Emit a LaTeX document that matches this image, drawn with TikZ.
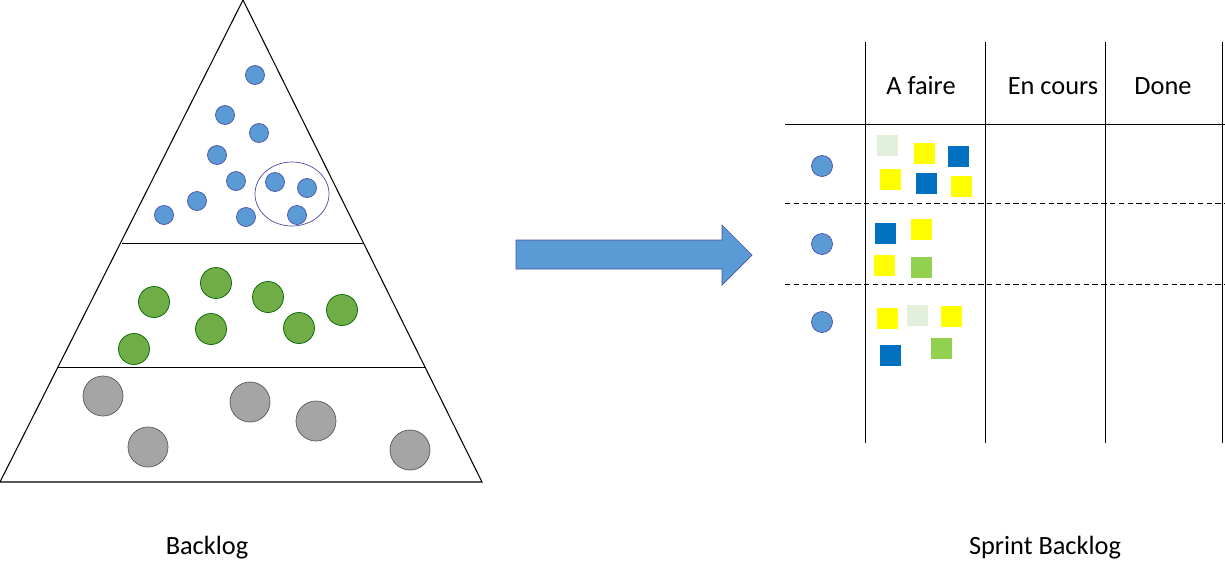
\documentclass[tikz,border=0pt]{standalone}
\usepackage{fontspec}
\setmainfont{Carlito}
\begin{document}
\begin{tikzpicture}[x=0.02cm,y=-0.02cm,
 bc/.style={circle,draw=blue!50!black!70,fill=bluedot,minimum size=19*0.02cm,inner sep=0},
 gc/.style={circle,draw=green!40!black,fill=greendot,minimum size=31*0.02cm,inner sep=0},
 gy/.style={circle,draw=gray!70!black,fill=graydot,minimum size=40*0.02cm,inner sep=0},
 sq/.style={minimum size=21*0.02cm,inner sep=0,draw=none},
 lbl/.style={font=\fontsize{15}{18}\selectfont}]
\definecolor{bluedot}{HTML}{5B9BD5}
\definecolor{greendot}{HTML}{70AD47}
\definecolor{graydot}{HTML}{A5A5A5}
\definecolor{sqy}{HTML}{FFFF00}
\definecolor{sqb}{HTML}{0070C0}
\definecolor{sqg}{HTML}{92D050}
\definecolor{sql}{HTML}{E2EFDA}
\useasboundingbox (0,0) rectangle (1225,579);
\draw[line width=0.6pt] (243,0) -- (0,482) -- (482,482) -- cycle;
\draw (122,243) -- (364,243);
\draw (58,367) -- (426,367);
\foreach \i/\x/\y in {1/255/75,2/225/115,3/259/133,4/217/155,5/236/181,6/275/182,7/307/188,8/197/201,9/164/215,10/246/217,11/297/215}
 \node[bc] (b\i) at (\x,\y) {};
\draw[draw=blue!50!black!70] (292,194) ellipse [x radius=37, y radius=32];
\foreach \i/\x/\y in {1/216/283,2/154/302,3/268/297,4/342/310,5/211/329,6/299/328,7/134/349}
 \node[gc] (g\i) at (\x,\y) {};
\foreach \i/\x/\y in {1/103/396,2/250/402,3/316/421,4/148/447,5/410/450}
 \node[gy] (r\i) at (\x,\y) {};
\draw[draw=blue!50!black!70,fill=bluedot] (516,240) -- (722,240) -- (722,225) -- (752,255) -- (722,285) -- (722,269) -- (516,269) -- cycle;
\draw (865,42) -- (865,443);
\draw (985,42) -- (985,443);
\draw (1105,42) -- (1105,443);
\draw (1222,42) -- (1222,443);
\draw (785,124) -- (1225,124);
\draw[densely dashed] (785,203) -- (1225,203);
\draw[densely dashed] (785,284) -- (1225,284);
\node[lbl] (h1) at (921,86) {A faire};
\node[lbl] (h2) at (1053,86) {En cours};
\node[lbl] (h3) at (1163,86) {Done};
\foreach \i/\y in {1/166,2/244,3/322} \node[bc,minimum size=21*0.02cm] (s\i) at (822,\y) {};
\foreach \i/\x/\y/\c in {1/887/145/sql,2/924/153/sqy,3/958/156/sqb,4/890/179/sqy,5/926/183/sqb,6/961/186/sqy,
 7/885/233/sqb,8/921/229/sqy,9/884/265/sqy,10/921/267/sqg,
 11/887/318/sqy,12/917/315/sql,13/951/316/sqy,14/890/355/sqb,15/941/348/sqg}
 \node[sq,fill=\c] (q\i) at (\x,\y) {};
\node[lbl] (t1) at (207,548) {Backlog};
\node[lbl] (t2) at (1045,548) {Sprint Backlog};
\end{tikzpicture}
\end{document}
